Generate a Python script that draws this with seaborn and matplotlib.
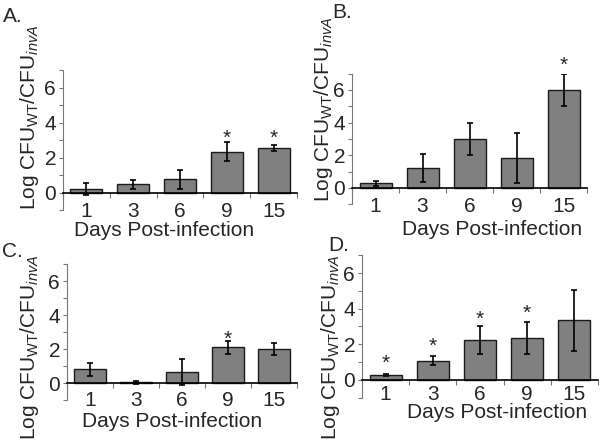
import matplotlib
matplotlib.use('Agg')
import matplotlib.pyplot as plt
import seaborn as sns
import numpy as np

days = ['1', '3', '6', '9', '15']

# panel values (mean, error, star height or None)
a_vals = [0.20, 0.48, 0.76, 2.35, 2.55]
a_err = [0.33, 0.24, 0.55, 0.55, 0.18]
a_star = [None, None, None, 3.5, 3.5]

b_vals = [0.28, 1.20, 3.00, 1.83, 6.00]
b_err = [0.15, 0.85, 1.00, 1.55, 1.00]
b_star = [None, None, None, None, 7.93]

c_vals = [0.80, 0.04, 0.65, 2.10, 2.00]
c_err = [0.40, 0.08, 0.78, 0.40, 0.33]
c_star = [None, None, None, 2.98, None]

d_vals = [0.28, 1.08, 2.22, 2.36, 3.34]
d_err = [0.08, 0.25, 0.78, 0.88, 1.73]
d_star = [1.33, 2.27, 3.77, 4.15, None]

sns.set_style('ticks')
plt.rcParams['font.family'] = ['Liberation Sans', 'DejaVu Sans']
plt.rcParams['mathtext.fontset'] = 'custom'
plt.rcParams['mathtext.rm'] = 'Liberation Sans'
plt.rcParams['mathtext.it'] = 'Liberation Sans:italic'

fig = plt.figure(figsize=(6, 4.47), dpi=100)

panels = [
    # vals, err, stars, axes box, ylabel coords, xlabel coords, tick pad, letter, letter pos
    (a_vals, a_err, a_star, [0.105, 0.5298, 0.39, 0.3125], (-0.096, 0.667), (0.432, -0.078), 6.5, 'A.', (0.005, 0.9508)),
    (b_vals, b_err, b_star, [0.5867, 0.5430, 0.3917, 0.2922], (-0.074, 0.728), (0.596, -0.118), 6.5, 'B.', (0.5533, 0.9598)),
    (c_vals, c_err, c_star, [0.1117, 0.1051, 0.3833, 0.3043], (-0.113, 0.385), (0.457, -0.088), 5.8, 'C.', (0.0033, 0.4260)),
    (d_vals, d_err, d_star, [0.6033, 0.1101, 0.3933, 0.3190], (-0.085, 0.352), (0.572, -0.035), 3.6, 'D.', (0.5467, 0.4395)),
]

for vals, err, stars, box, ylc, xlc, tpad, letter, lpos in panels:
    ax = fig.add_axes(box)
    sns.barplot(x=days, y=vals, color='#808080', edgecolor='#1a1a1a',
                linewidth=1.0, width=0.68, saturation=1, ax=ax)
    ax.errorbar(np.arange(len(days)), vals, yerr=err, fmt='none',
                ecolor='black', elinewidth=1.2, capsize=2.5, capthick=1.2)
    for i, s in enumerate(stars):
        if s is not None:
            ax.annotate('*', xy=(i, s), xytext=(0, -9), textcoords='offset points',
                        ha='center', va='baseline', fontsize=15, annotation_clip=False)

    ax.set_xlim(-0.5, 4.5)
    ax.set_ylim(-1, 7)
    ax.spines['top'].set_visible(False)
    ax.spines['right'].set_visible(False)
    ax.spines['bottom'].set_position(('data', 0))
    ax.spines['bottom'].set_color('black')
    ax.spines['bottom'].set_linewidth(1.2)
    ax.spines['left'].set_color('#777777')
    ax.spines['left'].set_linewidth(0.8)

    ax.set_yticks([0, 2, 4, 6])
    ax.set_yticks([-1, 1, 3, 5, 7], minor=True)
    ax.tick_params(axis='y', which='both', direction='out', length=3,
                   width=0.8, color='#777777', pad=2, labelsize=15)
    ax.set_xticks(np.arange(-0.5, 5, 1.0), minor=True)
    ax.tick_params(axis='x', which='major', length=0, pad=tpad, labelsize=15)
    ax.tick_params(axis='x', which='minor', direction='out', length=3.5,
                   width=0.8, color='#777777')

    ax.set_xlabel('Days Post-infection', fontsize=15)
    ax.xaxis.set_label_coords(*xlc)
    ax.set_ylabel('Log CFU$_{\\mathrm{WT}}$/CFU$_{\\mathit{invA}}$', fontsize=15)
    ax.yaxis.set_label_coords(*ylc)

    fig.text(lpos[0], lpos[1], letter, fontsize=15, ha='left', va='baseline')

fig.savefig('out.png', dpi=100)
